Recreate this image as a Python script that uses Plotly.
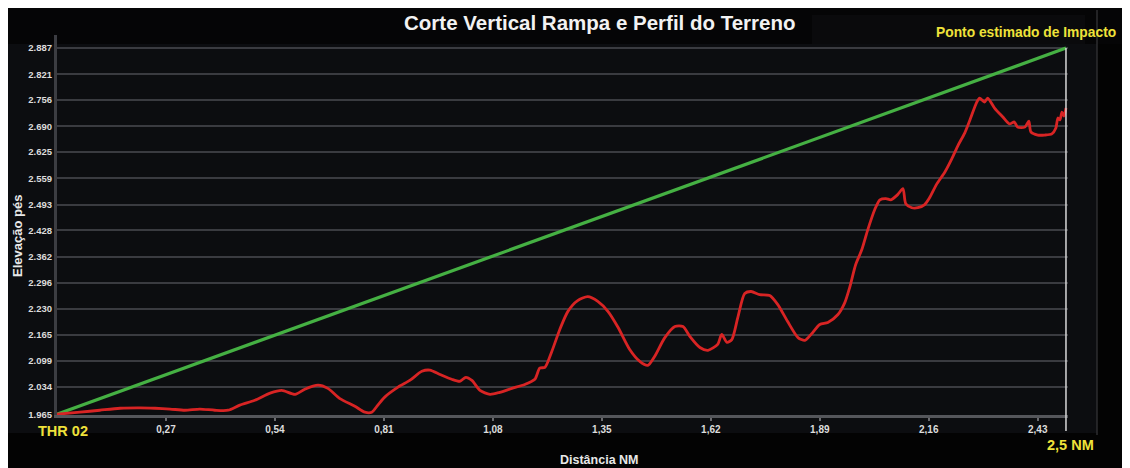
import plotly.graph_objects as go

# ---- data ----
dist_terrain = [0, 0.057, 0.106, 0.156, 0.206, 0.243, 0.28, 0.317, 0.354, 0.391, 0.424, 0.453, 0.49, 0.528,
                0.557, 0.59, 0.614, 0.647, 0.671, 0.70, 0.738, 0.763, 0.78, 0.795, 0.812, 0.845, 0.874, 0.904,
                0.924, 0.949, 0.978, 0.998, 1.013, 1.028, 1.048, 1.073, 1.097, 1.127, 1.159, 1.184, 1.196, 1.209,
                1.226, 1.246, 1.266, 1.29, 1.315, 1.34, 1.365, 1.39, 1.419, 1.444, 1.464, 1.481, 1.506, 1.531,
                1.551, 1.568, 1.593, 1.613, 1.637, 1.647, 1.66, 1.672, 1.687, 1.704, 1.72, 1.741, 1.766, 1.786,
                1.81, 1.836, 1.853, 1.87, 1.89, 1.91, 1.935, 1.952, 1.964, 1.979, 1.994, 2.009, 2.026, 2.039,
                2.054, 2.066, 2.083, 2.096, 2.103, 2.118, 2.133, 2.15, 2.162, 2.18, 2.2, 2.217, 2.232, 2.249,
                2.262, 2.279, 2.286, 2.298, 2.306, 2.323, 2.343, 2.36, 2.372, 2.38, 2.398, 2.408, 2.413, 2.43,
                2.447, 2.465, 2.475, 2.48, 2.485, 2.49, 2.495, 2.5]
elev_terrain = [1965, 1970, 1975, 1980, 1981, 1980, 1978, 1975, 1978, 1975, 1975, 1988, 2000, 2018,
                2025, 2015, 2028, 2038, 2030, 2005, 1985, 1970, 1970, 1988, 2008, 2033, 2050, 2073,
                2076, 2065, 2053, 2048, 2058, 2050, 2025, 2015, 2020, 2030, 2040, 2053, 2081, 2083,
                2123, 2179, 2224, 2251, 2261, 2249, 2224, 2184, 2128, 2098, 2088, 2111, 2158, 2186,
                2186, 2161, 2133, 2126, 2141, 2166, 2146, 2153, 2209, 2269, 2274, 2266, 2264, 2241,
                2199, 2158, 2151, 2168, 2191, 2196, 2216, 2246, 2284, 2342, 2379, 2430, 2480, 2505,
                2508, 2505, 2518, 2533, 2495, 2485, 2485, 2493, 2510, 2545, 2575, 2608, 2641, 2673,
                2706, 2751, 2761, 2751, 2761, 2736, 2714, 2696, 2701, 2688, 2688, 2703, 2676, 2668,
                2668, 2671, 2686, 2711, 2706, 2726, 2716, 2736]

dist_ramp = [0, 2.5]
elev_ramp = [1965, 2887]

x_tickvals = [0.27, 0.54, 0.81, 1.08, 1.35, 1.62, 1.89, 2.16, 2.43]
x_ticktext = ["0,27", "0,54", "0,81", "1,08", "1,35", "1,62", "1,89", "2,16", "2,43"]
y_tickvals = [1965, 2034, 2099, 2165, 2230, 2296, 2362, 2428, 2493, 2559, 2625, 2690, 2756, 2821, 2887]
y_ticktext = ["1.965", "2.034", "2.099", "2.165", "2.230", "2.296", "2.362", "2.428", "2.493",
              "2.559", "2.625", "2.690", "2.756", "2.821", "2.887"]

title_text = "Corte Vertical Rampa e Perfil do Terreno"
impact_text = "Ponto estimado de Impacto"
x_title = "Distância NM"
y_title = "Elevação pés"
start_label = "THR 02"
end_label = "2,5 NM"

# ---- layout geometry (screen pixels; page body adds an 8px offset) ----
OFF = 8
W, H = 1130, 468
L, R, T, B = 57, 1068, 35, 415


def px(xp):
    return (xp - L) / (R - L)


def py(yp):
    return (B - yp) / (B - T)


FONT = "Liberation Sans, Arial, sans-serif"
YELLOW = "#efe23a"

fig = go.Figure()
fig.add_trace(go.Scatter(x=dist_ramp, y=elev_ramp, mode="lines",
                         line=dict(color="#45b043", width=3.2), hoverinfo="skip"))
fig.add_trace(go.Scatter(x=dist_terrain, y=elev_terrain, mode="lines",
                         line=dict(color="#d82424", width=2.8, shape="spline", smoothing=0.7),
                         hoverinfo="skip"))

shapes = [
    # title bar
    dict(type="rect", xref="paper", yref="paper", x0=px(0), x1=px(W + 20), y0=py(44), y1=py(0),
         fillcolor="#050506", line=dict(width=0), layer="below"),
    dict(type="rect", xref="paper", yref="paper", x0=px(812), x1=px(1085), y0=py(44), y1=py(15),
         fillcolor="#0a0a0c", line=dict(width=0), layer="below"),
    # right strip
    dict(type="rect", xref="paper", yref="paper", x0=px(1097), x1=px(W + 20), y0=py(H + 20), y1=py(44),
         fillcolor="#030303", line=dict(width=0), layer="below"),
    # bottom strip
    dict(type="rect", xref="paper", yref="paper", x0=px(0), x1=px(W + 20), y0=py(H + 20), y1=py(433),
         fillcolor="#030303", line=dict(width=0), layer="below"),
    # separator line at right
    dict(type="line", xref="paper", yref="paper", x0=px(1097), x1=px(1097), y0=py(435), y1=py(10),
         line=dict(color="#2e2e30", width=1.5), layer="below"),
    # impact vertical marker
    dict(type="line", xref="x", yref="paper", x0=2.5, x1=2.5, y0=py(431), y1=py(48),
         line=dict(color="#d8d8d8", width=1.5)),
]

annotations = [
    dict(text=f"<b>{title_text}</b>", xref="paper", yref="paper", x=px(600), y=py(23),
         xanchor="center", yanchor="middle", showarrow=False,
         font=dict(family=FONT, size=20.5, color="#f2f2f2")),
    dict(text=f"<b>{impact_text}</b>", xref="paper", yref="paper", x=px(934), y=py(32),
         xanchor="left", yanchor="middle", showarrow=False,
         font=dict(family=FONT, size=13.8, color=YELLOW)),
    dict(text=f"<b>{start_label}</b>", xref="paper", yref="paper", x=px(63), y=py(431),
         xanchor="center", yanchor="middle", showarrow=False,
         font=dict(family=FONT, size=14.5, color=YELLOW)),
    dict(text=f"<b>{end_label}</b>", xref="paper", yref="paper", x=px(1070), y=py(445),
         xanchor="center", yanchor="middle", showarrow=False,
         font=dict(family=FONT, size=14.5, color=YELLOW)),
    dict(text=f"<b>{x_title}</b>", xref="paper", yref="paper", x=px(599), y=py(460),
         xanchor="center", yanchor="middle", showarrow=False,
         font=dict(family=FONT, size=12.5, color="#e8e8e8")),
    dict(text=f"<b>{y_title}</b>", xref="paper", yref="paper", x=px(17), y=py(236),
         xanchor="center", yanchor="middle", showarrow=False, textangle=-90,
         font=dict(family=FONT, size=13, color="#e8e8e8")),
]

fig.update_layout(
    width=W, height=H,
    margin=dict(l=L - OFF, r=W - (R - OFF), t=T - OFF, b=H - (B - OFF), pad=0),
    paper_bgcolor="#0c0d10",
    plot_bgcolor="rgba(0,0,0,0)",
    showlegend=False,
    shapes=shapes,
    annotations=annotations,
    xaxis=dict(range=[0, 2.505], tickvals=x_tickvals, ticktext=[f"<b>{t}</b>" for t in x_ticktext],
               showgrid=False, zeroline=False, showline=True, linecolor="#55565b", linewidth=3,
               ticks="outside", ticklen=3, tickcolor="#6a6a6e", tickwidth=2,
               tickfont=dict(family=FONT, size=10, color="#dcdcdc"), fixedrange=True),
    yaxis=dict(range=[1963, 2920], tickvals=y_tickvals, ticktext=[f"<b>{t}</b>" for t in y_ticktext],
               showgrid=True, gridcolor="#3a3b40", gridwidth=2, zeroline=False,
               showline=True, linecolor="#3c3d42", linewidth=3, ticks="",
               tickfont=dict(family=FONT, size=9.5, color="#dcdcdc"), fixedrange=True),
)

fig.write_html("out.html")
